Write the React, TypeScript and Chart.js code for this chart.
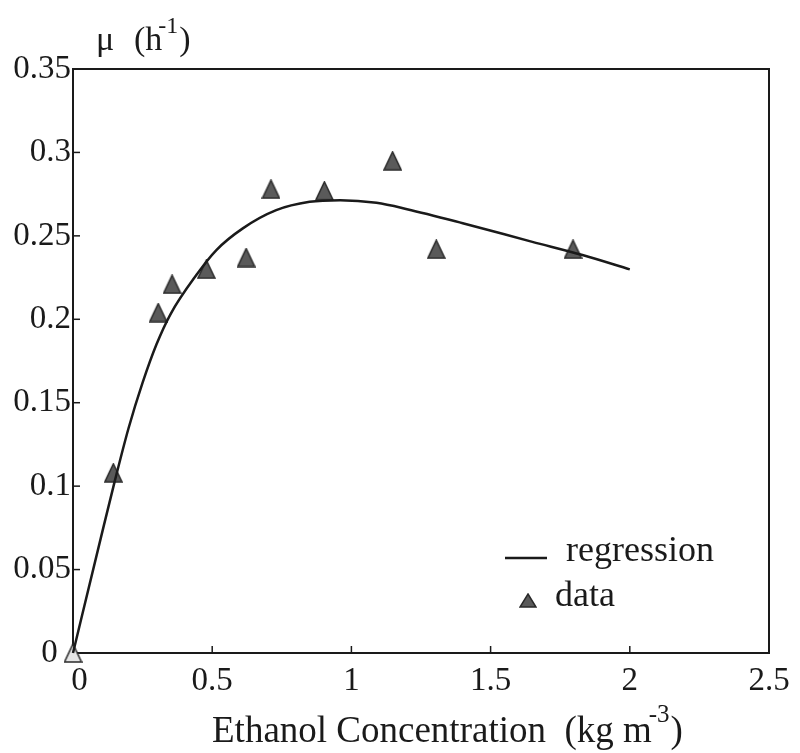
import { useEffect, useRef } from 'react';
import { Chart, registerables } from 'chart.js';

Chart.register(...registerables);

// Regression curve
const curveX = [0, 0.1, 0.15, 0.2, 0.25, 0.3, 0.35, 0.443, 0.515, 0.61, 0.73, 0.85, 0.96, 1.09, 1.2, 1.4, 1.65, 1.83, 2.0];
const curveY = [0, 0.069, 0.103, 0.135, 0.162, 0.185, 0.203, 0.2265, 0.2415, 0.2545, 0.2654, 0.2704, 0.2714, 0.2698, 0.266, 0.2576, 0.2464, 0.2385, 0.2299];

// Measured data points
const dataX = [0, 0.145, 0.306, 0.356, 0.479, 0.622, 0.711, 0.903, 1.148, 1.305, 1.796];
const dataY = [0, 0.108, 0.204, 0.221, 0.23, 0.237, 0.278, 0.277, 0.295, 0.242, 0.242];

const xTicks = [0, 0.5, 1, 1.5, 2, 2.5];
const yTicks = [0, 0.05, 0.1, 0.15, 0.2, 0.25, 0.3, 0.35];

const seriesNames = ['regression', 'data'];
const xTitle = 'Ethanol Concentration  (kg m';
const xTitleSup = '-3';
const yTitleSymbol = 'μ';
const yTitleUnit = '(h';
const yTitleSup = '-1';

const FONT = '"Liberation Serif", "Times New Roman", serif';
const INK = '#1a1a1a';
const TRI_FILL = '#5a5a5a';

function makeTriangle(w: number, h: number, fill: string) {
  const c = document.createElement('canvas');
  c.width = w;
  c.height = h;
  const ctx = c.getContext('2d')!;
  ctx.beginPath();
  ctx.moveTo(w / 2, 1);
  ctx.lineTo(w - 1, h - 1);
  ctx.lineTo(1, h - 1);
  ctx.closePath();
  ctx.fillStyle = fill;
  ctx.fill();
  ctx.strokeStyle = '#2a2a2a';
  ctx.lineWidth = 1.5;
  ctx.stroke();
  return c;
}

const framePlugin = {
  id: 'frame',
  beforeDatasetsDraw(chart: any) {
    const { ctx, chartArea: a, scales } = chart;
    ctx.save();
    ctx.strokeStyle = INK;
    ctx.lineWidth = 2;
    ctx.strokeRect(a.left, a.top, a.right - a.left, a.bottom - a.top);
    ctx.lineWidth = 1.5;
    xTicks.forEach((v) => {
      if (v <= 0 || v >= 2.5) return;
      const px = scales.x.getPixelForValue(v);
      ctx.beginPath();
      ctx.moveTo(px, a.bottom);
      ctx.lineTo(px, a.bottom - 7);
      ctx.stroke();
    });
    yTicks.forEach((v) => {
      if (v <= 0 || v >= 0.35) return;
      const py = scales.y.getPixelForValue(v);
      ctx.beginPath();
      ctx.moveTo(a.left, py);
      ctx.lineTo(a.left + 7, py);
      ctx.stroke();
    });
    ctx.restore();
  },
  afterDraw(chart: any) {
    const { ctx } = chart;
    ctx.save();
    ctx.fillStyle = INK;
    ctx.textBaseline = 'alphabetic';
    ctx.textAlign = 'left';

    // y-axis title
    ctx.font = `34px ${FONT}`;
    ctx.fillText(yTitleSymbol, 96, 50);
    ctx.fillText(yTitleUnit, 134, 50);
    let w = ctx.measureText(yTitleUnit).width;
    ctx.font = `24px ${FONT}`;
    ctx.fillText(yTitleSup, 134 + w - 4, 33);
    const ws = ctx.measureText(yTitleSup).width;
    ctx.font = `34px ${FONT}`;
    ctx.fillText(')', 134 + w - 4 + ws + 1, 50);

    // x-axis title
    ctx.font = `37px ${FONT}`;
    ctx.fillText(xTitle, 212, 742);
    w = ctx.measureText(xTitle).width;
    ctx.font = `25px ${FONT}`;
    ctx.fillText(xTitleSup, 212 + w - 3, 722);
    const ws2 = ctx.measureText(xTitleSup).width;
    ctx.font = `37px ${FONT}`;
    ctx.fillText(')', 212 + w - 3 + ws2 + 1, 742);

    // legend
    ctx.strokeStyle = INK;
    ctx.lineWidth = 2.5;
    ctx.beginPath();
    ctx.moveTo(505, 558);
    ctx.lineTo(547, 558);
    ctx.stroke();
    ctx.drawImage(makeTriangle(18, 15, TRI_FILL), 519, 593);
    ctx.fillStyle = INK;
    ctx.font = `36px ${FONT}`;
    ctx.textBaseline = 'middle';
    ctx.fillText(seriesNames[0], 566, 552);
    ctx.fillText(seriesNames[1], 555, 597);
    ctx.restore();
  },
};

export default function App() {
  const ref = useRef<HTMLCanvasElement | null>(null);
  useEffect(() => {
    if (!ref.current) return;
    const triDark = makeTriangle(19, 20, TRI_FILL);
    const triLight = makeTriangle(19, 20, '#e6e6e6');
    const chart = new Chart(ref.current, {
      type: 'scatter',
      data: {
        datasets: [
          {
            label: seriesNames[0],
            data: curveX.map((x, i) => ({ x, y: curveY[i] })),
            showLine: true,
            borderColor: INK,
            borderWidth: 2.5,
            pointRadius: 0,
            cubicInterpolationMode: 'monotone',
            clip: false,
          } as any,
          {
            label: seriesNames[1],
            data: dataX.map((x, i) => ({ x, y: dataY[i] })),
            pointStyle: dataX.map((_, i) => (i === 0 ? triLight : triDark)),
            pointRadius: 10,
            backgroundColor: TRI_FILL,
            borderColor: '#333',
            clip: false,
          } as any,
        ],
      },
      options: {
        animation: false,
        responsive: true,
        maintainAspectRatio: false,
        layout: { padding: { top: 69, right: 31, left: 0, bottom: 0 } },
        plugins: { legend: { display: false }, tooltip: { enabled: false }, title: { display: false } },
        scales: {
          x: {
            type: 'linear',
            min: 0,
            max: 2.5,
            afterBuildTicks: (s: any) => { s.ticks = xTicks.map((v) => ({ value: v })); },
            afterFit: (s: any) => { s.height = 100; },
            grid: { display: false, drawTicks: false },
            border: { display: false },
            ticks: { color: INK, font: { family: FONT, size: 33 }, padding: 9, maxRotation: 0, callback: (v: any) => (v === 0 ? '\u2009\u20090' : String(v)) },
          },
          y: {
            type: 'linear',
            min: 0,
            max: 0.35,
            afterBuildTicks: (s: any) => { s.ticks = yTicks.map((v) => ({ value: v })); },
            afterFit: (s: any) => { s.width = 73; },
            grid: { display: false, drawTicks: false },
            border: { display: false },
            ticks: { color: INK, font: { family: FONT, size: 33 }, padding: 2, callback: (v: any) => (v === 0 ? '0\u2009\u2009' : String(v)) },
          },
        },
      } as any,
      plugins: [framePlugin],
    });
    return () => chart.destroy();
  }, []);
  return (
    <div style={{ position: 'absolute', left: 0, top: 0, width: 800, height: 753, background: '#fff' }}>
      <canvas ref={ref} />
    </div>
  );
}
